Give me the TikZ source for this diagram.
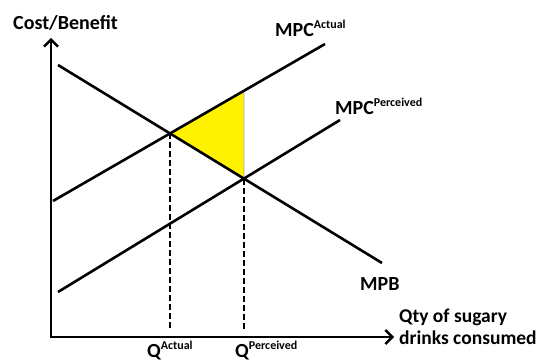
\documentclass[tikz,border=0pt]{standalone}
\usepackage{fontspec}
\setmainfont{Carlito}
\usetikzlibrary{arrows.meta}
\newcommand{\sps}[1]{\raisebox{0.42em}{\fontsize{12}{12}\selectfont #1}}
\begin{document}
\begin{tikzpicture}[x=1pt,y=-1pt,
  curve/.style={line width=2.6pt},
  axisline/.style={line width=2.8pt,-{Straight Barb[length=7pt,width=14pt,line width=2.4pt]}},
  guide/.style={line width=2pt,dash pattern=on 6pt off 3pt},
  lbl/.style={font=\fontsize{20}{22}\selectfont\bfseries,inner sep=0pt,anchor=base west}]
\useasboundingbox (0,0) rectangle (536,363);
% coordinates
\coordinate (o) at (51,337);
\coordinate (ytop) at (51,38);
\coordinate (xend) at (394,337);
\coordinate (b1) at (58,65);
\coordinate (b2) at (382,263);
\coordinate (a1) at (53,201);
\coordinate (a2) at (325,44);
\coordinate (p1) at (58,292);
\coordinate (p2) at (340,120);
\coordinate (ea) at (intersection of b1--b2 and a1--a2);
\coordinate (ep) at (intersection of b1--b2 and p1--p2);
\coordinate (epup) at (ep |- 0,0);
\coordinate (et) at (intersection of ep--epup and a1--a2);
\coordinate (qa) at (ea |- 0,328);
\coordinate (qp) at (ep |- 0,330);
% welfare triangle
\fill[yellow] (ea) -- (et) -- (ep) -- cycle;
\draw[gray!70,line width=0.8pt] (ea) -- (et) -- (ep);
% curves
\draw[curve] (b1) -- (b2);
\draw[curve] (a1) -- (a2);
\draw[curve] (p1) -- (p2);
% guides
\draw[guide] (ea) -- (qa);
\draw[guide] (ep) -- (qp);
% axes
\draw[axisline] (o) -- (ytop);
\draw[axisline] ([xshift=-1.4pt]o) -- (xend);
% labels
\node[lbl] (ylab) at (13,30) {Cost/Benefit};
\node[lbl] (mpca) at (275,37) {MPC\sps{Actual}};
\node[lbl] (mpcp) at (335,115) {MPC\sps{Perceived}};
\node[lbl] (mpb) at (360,291) {MPB};
\node[lbl,align=left,anchor=north west,font=\fontsize{19.5}{22}\selectfont\bfseries] (xlab) at (399,309) {Qty of sugary\\drinks consumed};
\node[lbl] (qal) at (147,358) {Q\sps{Actual}};
\node[lbl] (qpl) at (235,358) {Q\sps{Perceived}};
\end{tikzpicture}
\end{document}
